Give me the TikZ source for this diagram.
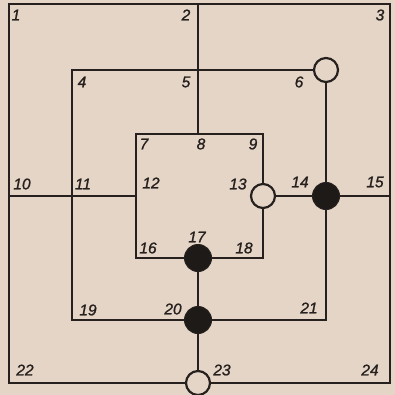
\documentclass[tikz,border=0pt]{standalone}
\usepackage{fontspec}
\setmainfont{Liberation Sans}[FakeBold=1.2]
\definecolor{bg}{RGB}{229,213,199}
\definecolor{ink}{RGB}{38,33,30}
\begin{document}
\begin{tikzpicture}[x=1pt,y=-1pt,
  board/.style={draw=ink,line width=2.2pt,line join=miter},
  opencirc/.style={circle,draw=ink,line width=2.2pt,fill=bg,minimum size=24pt,inner sep=0pt},
  fullcirc/.style={circle,draw=ink,line width=1pt,fill=ink!80!black,minimum size=27pt,inner sep=0pt},
  lbl/.style={font=\itshape\fontsize{15.5}{15.5}\selectfont,text=ink,inner sep=0pt}]
\fill[bg] (0,0) rectangle (395,395);
\useasboundingbox (0,0) rectangle (395,395);
% points
\coordinate (p1) at (9,4);
\coordinate (p2) at (198,4);
\coordinate (p3) at (390,4);
\coordinate (p4) at (72,70);
\coordinate (p5) at (198,70);
\coordinate (p6) at (326,70);
\coordinate (p7) at (136,134);
\coordinate (p8) at (198,134);
\coordinate (p9) at (263,134);
\coordinate (p10) at (9,196);
\coordinate (p11) at (72,196);
\coordinate (p12) at (136,196);
\coordinate (p13) at (263,196);
\coordinate (p14) at (326,196);
\coordinate (p15) at (390,196);
\coordinate (p16) at (136,258);
\coordinate (p17) at (198,258);
\coordinate (p18) at (263,258);
\coordinate (p19) at (72,320);
\coordinate (p20) at (198,320);
\coordinate (p21) at (326,320);
\coordinate (p22) at (9,383);
\coordinate (p23) at (198,383);
\coordinate (p24) at (390,383);
% squares
\draw[board] (p1) -- (p3) -- (p24) -- (p22) -- cycle;
\draw[board] (p4) -- (p6) -- (p21) -- (p19) -- cycle;
\draw[board] (p7) -- (p9) -- (p18) -- (p16) -- cycle;
% cross lines
\draw[board] (p2) -- (p8);
\draw[board] (p10) -- (p12);
\draw[board] (p13) -- (p15);
\draw[board] (p17) -- (p23);
% pieces
\node[opencirc] (c6) at (p6) {};
\node[opencirc] (c13) at (p13) {};
\node[fullcirc] (c14) at (p14) {};
\node[fullcirc] (c17) at (p17) {};
\node[fullcirc] (c20) at (p20) {};
\node[opencirc] (c23) at (p23) {};
% labels
\node[lbl] (l1) at (16,15) {1};
\node[lbl] (l2) at (186,15) {2};
\node[lbl] (l3) at (380,15) {3};
\node[lbl] (l4) at (82,82) {4};
\node[lbl] (l5) at (186,82) {5};
\node[lbl] (l6) at (299,82) {6};
\node[lbl] (l7) at (144,144) {7};
\node[lbl] (l8) at (201,144) {8};
\node[lbl] (l9) at (253,144) {9};
\node[lbl] (l10) at (22,184) {10};
\node[lbl] (l11) at (83,184) {11};
\node[lbl] (l12) at (151,183) {12};
\node[lbl] (l13) at (238,184) {13};
\node[lbl] (l14) at (300,182) {14};
\node[lbl] (l15) at (375,182) {15};
\node[lbl] (l16) at (148,248) {16};
\node[lbl] (l17) at (197,237) {17};
\node[lbl] (l18) at (244,248) {18};
\node[lbl] (l19) at (88,310) {19};
\node[lbl] (l20) at (173,309) {20};
\node[lbl] (l21) at (309,308) {21};
\node[lbl] (l22) at (25,370) {22};
\node[lbl] (l23) at (222,370) {23};
\node[lbl] (l24) at (370,370) {24};
\end{tikzpicture}
\end{document}
